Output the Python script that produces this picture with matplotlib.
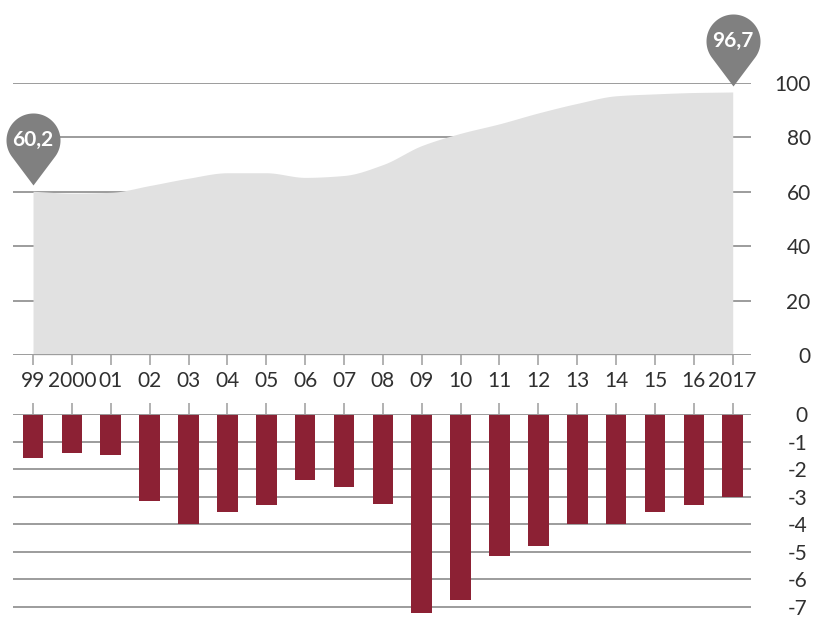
import numpy as np
import matplotlib
matplotlib.use("Agg")
import matplotlib.pyplot as plt
from matplotlib.path import Path

# ---- data ----
years = ["99", "2000", "01", "02", "03", "04", "05", "06", "07", "08", "09",
         "10", "11", "12", "13", "14", "15", "16", "2017"]
debt = [60.2, 59.5, 59.8, 62.3, 65.0, 67.0, 67.0, 65.3, 66.0, 70.0, 77.0,
        81.5, 85.0, 89.0, 92.5, 95.3, 96.0, 96.5, 96.7]
deficit = [-1.6, -1.4, -1.5, -3.15, -4.0, -3.55, -3.3, -2.4, -2.65, -3.25, -7.2,
           -6.75, -5.15, -4.8, -4.0, -4.0, -3.55, -3.3, -3.0]
upper_ticks = [0, 20, 40, 60, 80, 100]
lower_ticks = [0, -1, -2, -3, -4, -5, -6, -7]
lower_labels = ["0", "-1", "-2", "-3", "-4", "-5", "-6", "-7"]

plt.rcParams['font.family'] = ['Lato', 'DejaVu Sans']

AREA = '#e1e1e1'
GRID = '#9c9c9c'
BAR = '#8c2134'
PIN = '#808080'
TXT = '#303030'


def pchip(x, y, n=30):
    x = np.asarray(x, float); y = np.asarray(y, float)
    h = np.diff(x); d = np.diff(y) / h
    m = np.zeros_like(y)
    for k in range(1, len(y) - 1):
        if d[k - 1] * d[k] > 0:
            w1 = 2 * h[k] + h[k - 1]; w2 = h[k] + 2 * h[k - 1]
            m[k] = (w1 + w2) / (w1 / d[k - 1] + w2 / d[k])
    m[0] = d[0]; m[-1] = d[-1]
    xs, ys = [], []
    for k in range(len(x) - 1):
        t = np.linspace(0, 1, n, endpoint=False)
        h00 = 2 * t**3 - 3 * t**2 + 1; h10 = t**3 - 2 * t**2 + t
        h01 = -2 * t**3 + 3 * t**2; h11 = t**3 - t**2
        xs.append(x[k] + t * h[k])
        ys.append(h00 * y[k] + h10 * h[k] * m[k] + h01 * y[k + 1] + h11 * h[k] * m[k + 1])
    xs.append([x[-1]]); ys.append([y[-1]])
    return np.concatenate(xs), np.concatenate(ys)


def pin_path(r=27.0, c=51.0, tip=6.0):
    d = c - tip
    th = np.degrees(np.arccos(r / d))
    ang = np.radians(np.linspace(-90 + th, 270 - th, 80))
    vx = r * np.cos(ang); vy = c + r * np.sin(ang)
    verts = list(zip(vx, vy)) + [(0.0, tip), (vx[0], vy[0])]
    codes = [Path.MOVETO] + [Path.LINETO] * (len(verts) - 2) + [Path.CLOSEPOLY]
    return Path(verts, codes), (c + r)


fig = plt.figure(figsize=(8.16, 6.25), dpi=100)
W, H = 816, 625
x = np.arange(len(years))
xlim = (-0.515, 18.47)

# ---- upper area chart ----
ax = fig.add_axes([13 / W, 1 - 355 / H, (751 - 13) / W, 272 / H])
ax.set_xlim(*xlim)
ax.set_ylim(0, 100)
for v in upper_ticks:
    ax.axhline(v, color=GRID, lw=1.4, zorder=0 if v else 3)
xs, ys = pchip(x, debt)
ax.fill_between(xs, 0, ys, color=AREA, lw=0, zorder=1)
for s in ax.spines.values():
    s.set_visible(False)
ax.set_xticks(x, years)
ax.tick_params(axis='x', length=7.5, width=1.1, color=GRID, pad=4,
               labelsize=15, labelcolor=TXT)
ax.yaxis.tick_right()
ax.set_yticks(upper_ticks, [str(v) for v in upper_ticks])
ax.tick_params(axis='y', length=0, pad=43, labelsize=15, labelcolor=TXT)
for lab in ax.get_yticklabels():
    lab.set_horizontalalignment('right')

# pins
path, ext = pin_path()
ms = 2 * ext * 72 / 100
for i in (0, len(debt) - 1):
    ax.plot([x[i]], [debt[i]], marker=path, ms=ms, color=PIN, mew=0,
            clip_on=False, zorder=5)
    ax.annotate(f"{debt[i]:.1f}".replace('.', ','), (x[i], debt[i]),
                xytext=(0, 51 * 0.72), textcoords='offset points',
                ha='center', va='center', color='white', fontsize=15,
                fontweight='bold', zorder=6, annotation_clip=False)

# ---- lower bar chart ----
ppu = (607 - 414) / 7.0
ymin = -7.4
bot_px = 414 - ymin * ppu
ax2 = fig.add_axes([13 / W, 1 - bot_px / H, (751 - 13) / W, (bot_px - 414) / H])
ax2.set_xlim(*xlim)
ax2.set_ylim(ymin, 0)
for v in lower_ticks:
    ax2.axhline(v, color=GRID, lw=1.4, zorder=0 if v else 3)
ax2.bar(x, deficit, width=0.53, color=BAR, zorder=2)
for s in ax2.spines.values():
    s.set_visible(False)
ax2.xaxis.tick_top()
ax2.set_xticks(x)
ax2.tick_params(axis='x', length=8, width=1.1, color=GRID, labeltop=False,
                labelbottom=False)
ax2.yaxis.tick_right()
ax2.set_yticks(lower_ticks, lower_labels)
ax2.tick_params(axis='y', length=0, pad=41, labelsize=15, labelcolor=TXT)
for lab in ax2.get_yticklabels():
    lab.set_horizontalalignment('right')

fig.savefig("out.png", dpi=100)
